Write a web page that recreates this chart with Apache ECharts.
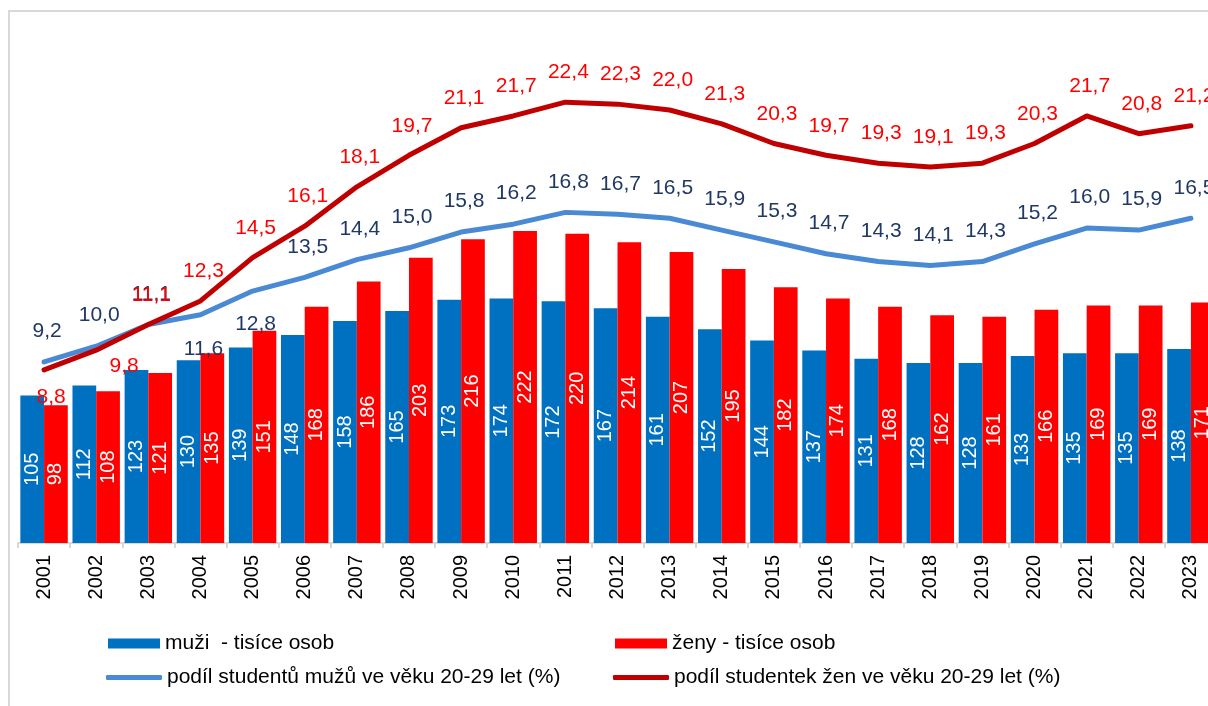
<!DOCTYPE html>
<html>
<head>
<meta charset="utf-8">
<script src="https://cdn.jsdelivr.net/npm/echarts@6/dist/echarts.min.js"></script>
<style>
  html, body { margin: 0; padding: 0; background: #fff; overflow: hidden; }
  #chart { width: 1222px; height: 706px; }
</style>
</head>
<body>
<div id="chart"></div>
<script>
var years = ['2001','2002','2003','2004','2005','2006','2007','2008','2009','2010','2011','2012',
             '2013','2014','2015','2016','2017','2018','2019','2020','2021','2022','2023'];
var muzi = [105,112,123,130,139,148,158,165,173,174,172,167,161,152,144,137,131,128,128,133,135,135,138];
var zeny = [98,108,121,135,151,168,186,203,216,222,220,214,207,195,182,174,168,162,161,166,169,169,171];
var podilMuzi = [9.2,10.0,11.1,11.6,12.8,13.5,14.4,15.0,15.8,16.2,16.8,16.7,16.5,15.9,15.3,14.7,14.3,14.1,14.3,15.2,16.0,15.9,16.5];
var podilZeny = [8.8,9.8,11.1,12.3,14.5,16.1,18.1,19.7,21.1,21.7,22.4,22.3,22.0,21.3,20.3,19.7,19.3,19.1,19.3,20.3,21.7,20.8,21.2];

var names = ['muži  - tisíce osob', 'ženy - tisíce osob',
             'podíl studentů mužů ve věku 20-29 let (%)', 'podíl studentek žen ve věku 20-29 let (%)'];

var font = '"Liberation Sans", Arial, sans-serif';

// labels that Excel placed under the line instead of above
var muziLabelFix = {
    3: { position: 'bottom', distance: 24 },
    4: { position: 'bottom', distance: 23 }
};
var zenyLabelFix = {
    0: { position: 'bottom', distance: 17 },
    1: { position: 'bottom', distance: 6 }
};
var zenyShift = { 0: 7, 1: 28 };

function fmt(p) {
    return p.value.toFixed(1).replace('.', ',');
}

function lineData(vals, fix) {
    return vals.map(function (v, i) {
        if (fix[i]) return { value: v, label: fix[i] };
        return v;
    });
}

var chart = echarts.init(document.getElementById('chart'));

var option = {
    backgroundColor: '#fff',
    animation: false,
    textStyle: { fontFamily: font },
    graphic: [{
        type: 'rect',
        shape: { x: 9, y: 11, width: 1400, height: 900 },
        style: { fill: null, stroke: '#d9d9d9', lineWidth: 2 },
        silent: true
    }],
    legend: [
        { data: [{ name: names[0], icon: 'rect' }], left: 108, top: 633, padding: 0,
          itemWidth: 52, itemHeight: 10, textStyle: { fontSize: 21, color: '#000', fontFamily: font } },
        { data: [{ name: names[1], icon: 'rect' }], left: 615, top: 633, padding: 0,
          itemWidth: 52, itemHeight: 10, textStyle: { fontSize: 21, color: '#000', fontFamily: font } },
        { data: [{ name: names[2], icon: 'roundRect' }], left: 106, top: 667, padding: 0,
          itemWidth: 56, itemHeight: 5, textStyle: { fontSize: 21, color: '#000', fontFamily: font } },
        { data: [{ name: names[3], icon: 'roundRect' }], left: 613, top: 667, padding: 0,
          itemWidth: 56, itemHeight: 5, textStyle: { fontSize: 21, color: '#000', fontFamily: font } }
    ],
    grid: { left: 18, right: 5, top: 51, bottom: 163, containLabel: false },
    xAxis: {
        type: 'category',
        data: years,
        axisLine: { lineStyle: { color: '#d9d9d9', width: 2 } },
        axisTick: { show: true, length: 5, lineStyle: { color: '#d9d9d9', width: 2 } },
        axisLabel: { rotate: 90, margin: 12, fontSize: 20, color: '#000', fontFamily: font, interval: 0 }
    },
    yAxis: [
        { type: 'value', min: 0, max: 350, show: false, splitLine: { show: false } },
        { type: 'value', min: 0, max: 25, show: false, splitLine: { show: false } }
    ],
    series: [
        {
            name: names[0], type: 'bar', data: muzi,
            barGap: 0, barCategoryGap: '9%',
            itemStyle: { color: '#0070C0' },
            label: { show: true, position: 'inside', rotate: 90, color: '#fff', fontSize: 20, fontFamily: font }
        },
        {
            name: names[1], type: 'bar', data: zeny,
            barGap: 0, barCategoryGap: '9%',
            itemStyle: { color: '#FF0000' },
            label: { show: true, position: 'inside', rotate: 90, color: '#fff', fontSize: 20, fontFamily: font }
        },
        {
            name: names[2], type: 'line', yAxisIndex: 1,
            data: lineData(podilMuzi, muziLabelFix),
            showSymbol: true, symbol: 'circle', symbolSize: 0,
            lineStyle: { color: '#4A8AD4', width: 5, cap: 'round', join: 'round' },
            itemStyle: { color: '#4A8AD4' },
            label: { show: true, position: 'top', distance: 20, formatter: fmt,
                     color: '#1F3864', fontSize: 21, fontFamily: font },
            labelLayout: function () { return { dx: 3, hideOverlap: false }; },
            z: 3
        },
        {
            name: names[3], type: 'line', yAxisIndex: 1,
            data: lineData(podilZeny, zenyLabelFix),
            showSymbol: true, symbol: 'circle', symbolSize: 0,
            lineStyle: { color: '#C00000', width: 5, cap: 'round', join: 'round' },
            itemStyle: { color: '#C00000' },
            label: { show: true, position: 'top', distance: 19, formatter: fmt,
                     color: '#FF0000', fontSize: 21, fontFamily: font },
            labelLayout: function (p) {
                return { dx: zenyShift[p.dataIndex] != null ? zenyShift[p.dataIndex] : 3, hideOverlap: false };
            },
            z: 4
        }
    ]
};

chart.setOption(option);
</script>
</body>
</html>
